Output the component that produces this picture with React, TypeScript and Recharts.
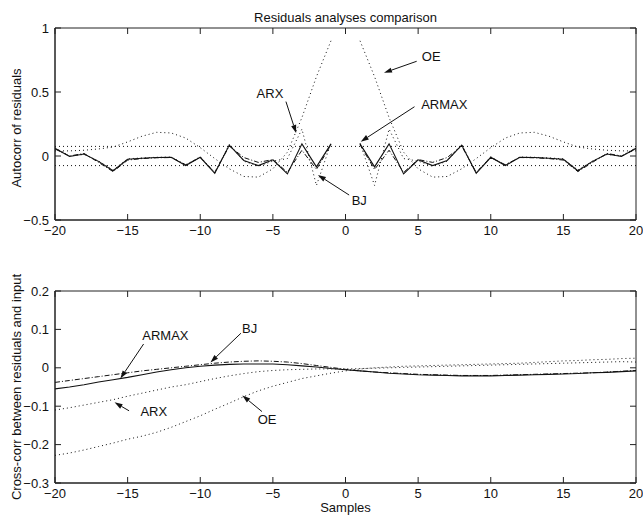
import React from 'react';
import { LineChart, Line, XAxis, YAxis, ReferenceLine, ReferenceDot, ReferenceArea } from 'recharts';

// ---------- data ----------
const LAGS = [-20, -19, -18, -17, -16, -15, -14, -13, -12, -11, -10, -9, -8, -7, -6, -5, -4, -3, -2, -1, 0,
  1, 2, 3, 4, 5, 6, 7, 8, 9, 10, 11, 12, 13, 14, 15, 16, 17, 18, 19, 20];
const X_TICKS = [-20, -15, -10, -5, 0, 5, 10, 15, 20];
const AUTO_Y_TICKS = [-0.5, 0, 0.5, 1];
const CROSS_Y_TICKS = [-0.3, -0.2, -0.1, 0, 0.1, 0.2];
const CONF_BOUND = 0.075;

// Autocorrelation of residuals (lag 0 not drawn)
const AUTO_ARMAX = [0.06, -0.004, 0.016, -0.042, -0.115, -0.025, -0.018, -0.012, -0.01, -0.075, -0.01, -0.135, 0.085, -0.035, -0.075, -0.03, -0.14, 0.095, -0.085, 0.095, null,
  0.095, -0.085, 0.095, -0.14, -0.03, -0.075, -0.035, 0.085, -0.135, -0.01, -0.075, -0.01, -0.012, -0.018, -0.025, -0.115, -0.042, 0.016, -0.004, 0.06];
const AUTO_BJ = [0.055, 0.0, 0.02, -0.05, -0.122, -0.032, -0.02, -0.014, -0.012, -0.068, -0.012, -0.128, 0.078, -0.012, -0.05, -0.028, -0.128, 0.045, -0.105, 0.088, null,
  0.088, -0.105, 0.045, -0.128, -0.028, -0.05, -0.012, 0.078, -0.128, -0.012, -0.068, -0.012, -0.014, -0.02, -0.032, -0.122, -0.05, 0.02, 0.0, 0.055];
const AUTO_ARX = [0.065, 0.0, 0.012, -0.04, -0.11, -0.022, -0.015, -0.01, -0.008, -0.07, -0.006, -0.13, 0.09, -0.04, -0.08, -0.04, -0.02, 0.21, -0.23, 0.1, null,
  0.1, -0.23, 0.21, -0.02, -0.04, -0.08, -0.04, 0.09, -0.13, -0.006, -0.07, -0.008, -0.01, -0.015, -0.022, -0.11, -0.04, 0.012, 0.0, 0.065];
const AUTO_OE = [0.04, 0.04, 0.045, 0.055, 0.07, 0.11, 0.155, 0.185, 0.18, 0.14, 0.065, -0.02, -0.1, -0.16, -0.165, -0.1, 0.03, 0.3, 0.62, 0.9, null,
  0.9, 0.62, 0.3, 0.03, -0.1, -0.165, -0.16, -0.1, -0.02, 0.065, 0.14, 0.18, 0.185, 0.155, 0.11, 0.07, 0.055, 0.045, 0.04, 0.04];

// Cross-correlation between residuals and input
const CROSS_ARMAX = [-0.055, -0.05, -0.044, -0.037, -0.031, -0.025, -0.018, -0.011, -0.005, 0.0, 0.004, 0.007, 0.009, 0.01, 0.01, 0.01, 0.008, 0.005, 0.002, -0.002, -0.005,
  -0.008, -0.011, -0.014, -0.016, -0.018, -0.019, -0.02, -0.021, -0.021, -0.021, -0.02, -0.019, -0.018, -0.017, -0.016, -0.015, -0.013, -0.012, -0.01, -0.008];
const CROSS_BJ = [-0.038, -0.033, -0.028, -0.023, -0.018, -0.013, -0.008, -0.004, 0.0, 0.004, 0.008, 0.012, 0.015, 0.017, 0.018, 0.017, 0.015, 0.011, 0.006, 0.001, -0.004,
  -0.008, -0.011, -0.013, -0.015, -0.017, -0.018, -0.019, -0.02, -0.02, -0.02, -0.019, -0.018, -0.017, -0.016, -0.015, -0.014, -0.013, -0.011, -0.009, -0.007];
const CROSS_ARX = [-0.11, -0.104, -0.097, -0.09, -0.083, -0.074, -0.066, -0.058, -0.05, -0.044, -0.036, -0.028, -0.021, -0.015, -0.01, -0.007, -0.005, -0.004, -0.003, -0.003, -0.003,
  -0.002, -0.001, 0.0, 0.001, 0.002, 0.003, 0.004, 0.005, 0.006, 0.007, 0.008, 0.009, 0.01, 0.011, 0.012, 0.013, 0.014, 0.015, 0.016, 0.015];
const CROSS_OE = [-0.228, -0.222, -0.214, -0.205, -0.196, -0.186, -0.178, -0.168, -0.155, -0.14, -0.125, -0.108, -0.092, -0.075, -0.06, -0.048, -0.038, -0.028, -0.021, -0.014, -0.008,
  -0.003, 0.0, 0.002, 0.004, 0.005, 0.006, 0.007, 0.008, 0.009, 0.01, 0.011, 0.012, 0.014, 0.016, 0.018, 0.019, 0.021, 0.022, 0.024, 0.025];

// Annotations (data coordinates): label position, arrow tail, arrow tip
const AUTO_NOTES = [
  { text: 'OE', x: 5.9, y: 0.78, ax: 4.9, ay: 0.74, bx: 2.65, by: 0.65 },
  { text: 'ARX', x: -5.2, y: 0.49, ax: -4.1, ay: 0.425, bx: -3.4, by: 0.18 },
  { text: 'ARMAX', x: 6.8, y: 0.4, ax: 4.75, ay: 0.385, bx: 1.05, by: 0.112 },
  { text: 'BJ', x: 0.95, y: -0.345, ax: 0.25, ay: -0.305, bx: -1.9, by: -0.148 },
];
const CROSS_NOTES = [
  { text: 'ARMAX', x: -12.4, y: 0.083, ax: -13.9, ay: 0.062, bx: -15.5, by: -0.028 },
  { text: 'BJ', x: -6.6, y: 0.103, ax: -7.2, ay: 0.09, bx: -9.3, by: 0.014 },
  { text: 'ARX', x: -13.2, y: -0.114, ax: -14.9, ay: -0.112, bx: -15.9, by: -0.09 },
  { text: 'OE', x: -5.4, y: -0.135, ax: -5.75, ay: -0.114, bx: -7.1, by: -0.072 },
];

const autoData = LAGS.map((lag, i) => ({ lag, armax: AUTO_ARMAX[i], bj: AUTO_BJ[i], arx: AUTO_ARX[i], oe: AUTO_OE[i] }));
const crossData = LAGS.map((lag, i) => ({ lag, armax: CROSS_ARMAX[i], bj: CROSS_BJ[i], arx: CROSS_ARX[i], oe: CROSS_OE[i] }));

// ---------- styles ----------
const FONT = '"Liberation Sans", Arial, Helvetica, sans-serif';
const INK = '#111';
const AXIS = '#222';
const TICK = 6;
const FS = 13;
const DOT = '1 3';
const DASHDOT = '5 2 1 2';
const CHART_W = 643;
const CHART_H = 258;
const MARGIN_L = 15, Y_W = 40, MARGIN_R = 7;
const PLOT_W = CHART_W - MARGIN_L - Y_W - MARGIN_R;
const PLOT_H = 192;

const fmt = (v: number) => String(Math.round(v * 10) / 10).replace('-', '\u2212');

// bottom ticks also draw the matching inward tick on the top edge of the box
const BottomTick = (p: any) => (
  <g>
    <line x1={p.x} y1={p.y} x2={p.x} y2={p.y - TICK} stroke={AXIS} />
    <line x1={p.x} y1={p.y - PLOT_H} x2={p.x} y2={p.y - PLOT_H + TICK} stroke={AXIS} />
    <text x={p.x} y={p.y + 15} textAnchor="middle" fontSize={FS} fontFamily={FONT} fill={INK}>{fmt(p.payload.value)}</text>
  </g>
);
// left ticks also draw the matching inward tick on the right edge of the box
const LeftTick = (p: any) => (
  <g>
    <line x1={p.x} y1={p.y} x2={p.x + TICK} y2={p.y} stroke={AXIS} />
    <line x1={p.x + PLOT_W} y1={p.y} x2={p.x + PLOT_W - TICK} y2={p.y} stroke={AXIS} />
    <text x={p.x - 6} y={p.y + 4.5} textAnchor="end" fontSize={FS} fontFamily={FONT} fill={INK}>{fmt(p.payload.value)}</text>
  </g>
);

const Arrow = (p: any) => {
  const { x1, y1, x2, y2 } = p;
  const dx = x2 - x1, dy = y2 - y1;
  const len = Math.hypot(dx, dy) || 1;
  const ux = dx / len, uy = dy / len;
  const L = 8, W = 2.6;
  const bx = x2 - ux * L, by = y2 - uy * L;
  const pts = `${x2},${y2} ${bx - uy * W},${by + ux * W} ${bx + uy * W},${by - ux * W}`;
  return (
    <g>
      <line x1={x1} y1={y1} x2={bx} y2={by} stroke={INK} strokeWidth={1} />
      <polygon points={pts} fill={INK} />
    </g>
  );
};

const NoteText = (text: string) => (p: any) => (
  <text x={p.cx} y={p.cy + 4.5} textAnchor="middle" fontSize={FS} fontFamily={FONT} fill={INK}>{text}</text>
);

function renderNotes(notes: typeof AUTO_NOTES) {
  const out: any[] = [];
  notes.forEach((n, i) => {
    out.push(
      <ReferenceLine key={'a' + i} segment={[{ x: n.ax, y: n.ay }, { x: n.bx, y: n.by }]} shape={Arrow} ifOverflow="visible" />
    );
    out.push(
      <ReferenceDot key={'t' + i} x={n.x} y={n.y} r={0} shape={NoteText(n.text)} ifOverflow="visible" />
    );
  });
  return out;
}

function Series() {
  return [
    <Line key="oe" dataKey="oe" stroke={INK} strokeWidth={1} strokeDasharray={DOT} dot={false} isAnimationActive={false} />,
    <Line key="arx" dataKey="arx" stroke={INK} strokeWidth={1} strokeDasharray={DOT} dot={false} isAnimationActive={false} />,
    <Line key="bj" dataKey="bj" stroke={INK} strokeWidth={1} strokeDasharray={DASHDOT} dot={false} isAnimationActive={false} />,
    <Line key="armax" dataKey="armax" stroke={INK} strokeWidth={1.1} dot={false} isAnimationActive={false} />,
  ];
}

function Axes(yDomain: number[], yTicks: number[]) {
  return [
    <XAxis key="xb" dataKey="lag" type="number" domain={[-20, 20]} ticks={X_TICKS} interval={0}
      allowDataOverflow height={20} tickSize={0} tickMargin={0} tickLine={false}
      axisLine={{ stroke: AXIS }} tick={BottomTick} />,
    <YAxis key="yl" type="number" domain={yDomain} ticks={yTicks} interval={0} allowDataOverflow
      width={Y_W} tickSize={0} tickMargin={0} tickLine={false} axisLine={{ stroke: AXIS }} tick={LeftTick} />,
    <ReferenceArea key="frame" x1={-20} x2={20} y1={yDomain[0]} y2={yDomain[1]} fill="none" fillOpacity={0}
      stroke={AXIS} strokeWidth={1} ifOverflow="visible" />,
  ];
}

export default function App() {
  return (
    <div style={{ position: 'absolute', left: 0, top: 0, width: 643, height: 516, background: '#fff', overflow: 'hidden', fontFamily: FONT, color: INK }}>
      <div style={{ position: 'absolute', left: 0, top: 0 }}>
        <LineChart width={CHART_W} height={CHART_H} data={autoData} margin={{ top: 28, right: MARGIN_R, bottom: 18, left: MARGIN_L }}>
          {Axes([-0.5, 1], AUTO_Y_TICKS)}
          <ReferenceLine y={CONF_BOUND} stroke={INK} strokeDasharray={DOT} />
          <ReferenceLine y={-CONF_BOUND} stroke={INK} strokeDasharray={DOT} />
          {Series()}
          {renderNotes(AUTO_NOTES)}
        </LineChart>
      </div>
      <div style={{ position: 'absolute', left: 0, top: 258 }}>
        <LineChart width={CHART_W} height={CHART_H} data={crossData} margin={{ top: 33, right: MARGIN_R, bottom: 13, left: MARGIN_L }}>
          {Axes([-0.3, 0.2], CROSS_Y_TICKS)}
          {Series()}
          {renderNotes(CROSS_NOTES)}
        </LineChart>
      </div>
      <div style={{ position: 'absolute', left: 55, width: 581, top: 10, textAlign: 'center', fontSize: FS, lineHeight: '15px' }}>
        Residuals analyses comparison
      </div>
      <div style={{ position: 'absolute', left: 16, top: 128, transform: 'translate(-50%, -50%) rotate(-90deg)', whiteSpace: 'nowrap', fontSize: FS, lineHeight: '15px' }}>
        Autocorr of residuals
      </div>
      <div style={{ position: 'absolute', left: 16, top: 387, transform: 'translate(-50%, -50%) rotate(-90deg)', whiteSpace: 'nowrap', fontSize: FS, lineHeight: '15px' }}>
        Cross-corr between residuals and input
      </div>
      <div style={{ position: 'absolute', left: 55, width: 581, top: 501, textAlign: 'center', fontSize: FS, lineHeight: '13px' }}>
        Samples
      </div>
    </div>
  );
}
